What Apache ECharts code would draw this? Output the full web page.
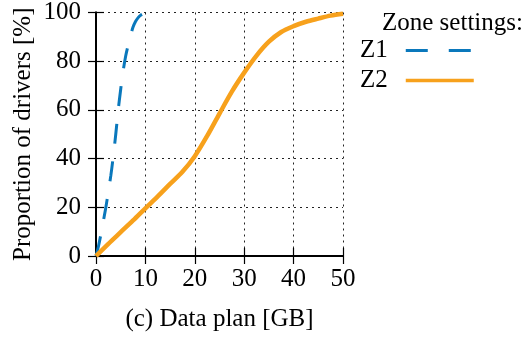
<!DOCTYPE html>
<html>
<head>
<meta charset="utf-8">
<script src="https://cdn.jsdelivr.net/npm/echarts@6/dist/echarts.min.js"></script>
<style>html,body{margin:0;padding:0;background:#fff;}#c{width:528px;height:340px;}</style>
</head>
<body>
<div id="c"></div>
<script>
const xTicks = [0, 10, 20, 30, 40, 50];
const yTicks = [0, 20, 40, 60, 80, 100];
const z1X = [0, 0.5, 1, 1.5, 2, 2.5, 3, 3.5, 4, 4.5, 5, 5.5, 6, 6.5, 7, 7.5, 8, 8.5, 9, 9.5, 10, 10.3];
const z1Y = [0, 4, 9, 14.5, 20, 26.5, 33, 41, 50, 60, 68.5, 76, 82, 86.5, 90.5, 94, 96.3, 97.8, 98.8, 99.4, 99.8, 100];
const z2X = [0, 2.5, 5, 7.5, 10, 12.5, 15, 17.5, 20, 22.5, 25, 27.5, 30, 32.5, 35, 37.5, 40, 42.5, 45, 47.5, 50];
const z2Y = [0, 5, 9.8, 14.6, 19.6, 24.5, 29.6, 34.6, 41, 49.3, 58.5, 67.5, 75.3, 82.3, 88, 92, 94.4, 96.2, 97.5, 98.7, 99.5];
const seriesNames = ['Z1', 'Z2'];
const legendTitle = 'Zone settings:';
const xName = '(c) Data plan [GB]';
const yName = 'Proportion of drivers [%]';

const FONT = "'Liberation Serif', 'Times New Roman', serif";
const FS = 25;
const BLUE = '#0a78bc';
const ORANGE = '#f7a11c';

const chart = echarts.init(document.getElementById('c'), null, {renderer: 'canvas'});
const pair = (xs, ys) => xs.map((x, i) => [x, ys[i]]);

const axisCommon = {
  type: 'value',
  axisLine: {show: true, lineStyle: {color: '#000', width: 2}},
  axisTick: {show: true, inside: true, length: 8, lineStyle: {color: '#000', width: 1.2}},
  splitLine: {show: false},
  axisLabel: {show: false}
};
const hiddenIcon = {color: 'transparent', borderColor: 'transparent', borderWidth: 0, opacity: 0};

chart.setOption({
  animation: false,
  textStyle: {fontFamily: FONT},
  grid: {left: 96, right: 185, top: 10, bottom: 84, containLabel: false},
  title: {
    text: legendTitle, left: 382, top: 11, padding: 0,
    textStyle: {fontFamily: FONT, fontSize: FS, fontWeight: 'normal', color: '#000'}
  },
  legend: {
    orient: 'vertical', left: 360, top: 38, align: 'right',
    itemWidth: 68, itemHeight: 20, itemGap: 5, padding: 0,
    itemStyle: hiddenIcon,
    textStyle: {fontFamily: FONT, fontSize: FS, color: '#000', padding: [0, 13, 0, 0]},
    data: [
      {name: seriesNames[0], lineStyle: {type: [22, 21], width: 3}, itemStyle: hiddenIcon},
      {name: seriesNames[1], lineStyle: {width: 3.5}, itemStyle: hiddenIcon}
    ]
  },
  xAxis: [
    Object.assign({}, axisCommon, {
      min: xTicks[0], max: xTicks[xTicks.length - 1], interval: 10, position: 'bottom',
      axisLabel: {show: true, fontFamily: FONT, fontSize: FS, color: '#000', margin: 11},
      splitLine: {show: true, lineStyle: {color: '#222', width: 1, type: [2, 4]}},
      name: xName, nameLocation: 'middle', nameGap: 51,
      nameTextStyle: {fontFamily: FONT, fontSize: FS, color: '#000'}
    }),
    Object.assign({}, axisCommon, {min: 0, max: 50, interval: 10, position: 'top'})
  ],
  yAxis: [
    Object.assign({}, axisCommon, {
      min: yTicks[0], max: yTicks[yTicks.length - 1], interval: 20, position: 'left',
      axisLabel: {show: true, fontFamily: FONT, fontSize: FS, color: '#000', margin: 15},
      splitLine: {show: true, lineStyle: {color: '#222', width: 1, type: [2, 4]}},
      name: yName, nameLocation: 'middle', nameGap: 60,
      nameTextStyle: {fontFamily: FONT, fontSize: FS, color: '#000'}
    }),
    Object.assign({}, axisCommon, {min: 0, max: 100, interval: 20, position: 'right'})
  ],
  series: [
    {
      name: seriesNames[0], type: 'line', data: pair(z1X, z1Y), smooth: 0.3,
      symbol: 'none', z: 3,
      lineStyle: {color: BLUE, width: 3, type: [20, 18]},
      itemStyle: {color: BLUE}
    },
    {
      name: seriesNames[1], type: 'line', data: pair(z2X, z2Y), smooth: 0.3,
      symbol: 'none', z: 4,
      lineStyle: {color: ORANGE, width: 4.5},
      itemStyle: {color: ORANGE}
    }
  ]
});
</script>
</body>
</html>
